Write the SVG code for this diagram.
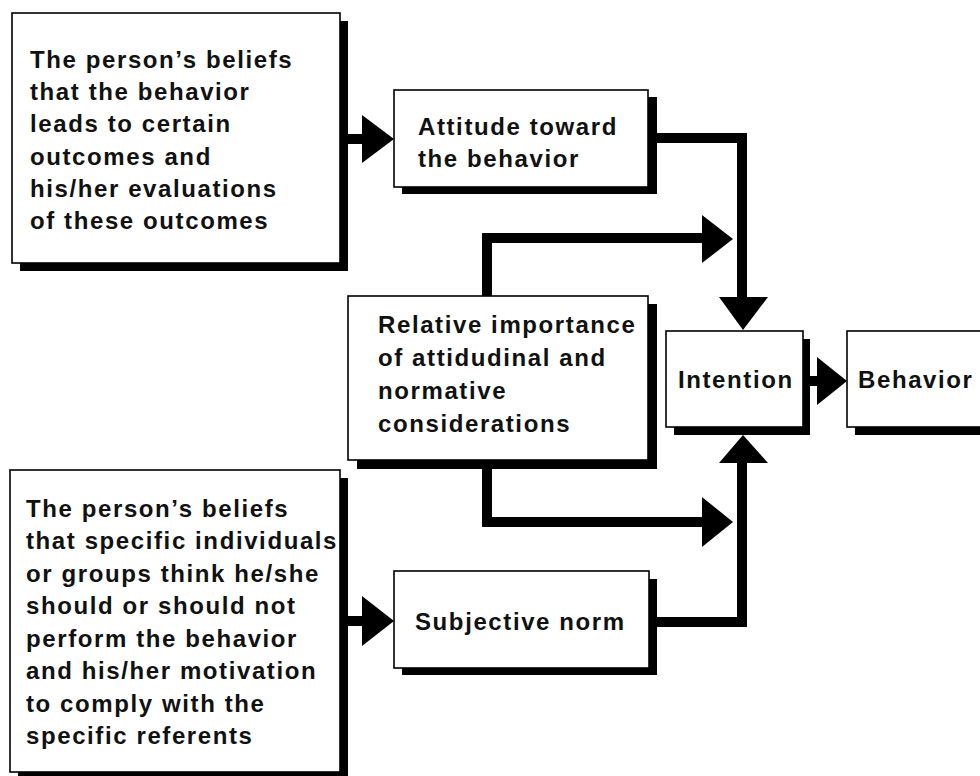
<svg xmlns="http://www.w3.org/2000/svg" width="980" height="776" viewBox="0 0 980 776">
<style>
.box{fill:#fff;stroke:#000;stroke-width:1.6}
.shadow{fill:#000}
text{font-family:"Liberation Sans",Arial,Helvetica,sans-serif;font-weight:bold;font-size:24px;letter-spacing:1.6px;fill:#111}
.wire{fill:none;stroke:#000;stroke-width:10;stroke-linejoin:miter;stroke-linecap:butt}
.head{fill:#000}
</style>
<rect width="980" height="776" fill="#fff"/>
<g id="connectors">
<path class="wire" d="M346,139 H366"/>
<polygon class="head" points="362,115 394,139 362,163"/>
<path class="wire" d="M656,138 H742 V300"/>
<polygon class="head" points="719,297 768,297 743,330"/>
<path class="wire" d="M487,297 V238 H706"/>
<polygon class="head" points="702,215 733,239 702,263"/>
<path class="wire" d="M487,468 V522 H706"/>
<polygon class="head" points="702,497 733,522 702,547"/>
<path class="wire" d="M656,622 H742 V460"/>
<polygon class="head" points="719,463 768,463 743,435"/>
<path class="wire" d="M346,621 H366"/>
<polygon class="head" points="362,596 394,621 362,646"/>
<path class="wire" d="M808,381 H821"/>
<polygon class="head" points="817,357 847,381 817,405"/>
</g>
<g id="beliefs-outcomes">
<rect class="shadow" x="20" y="21" width="328" height="250"/>
<rect class="box" x="12" y="13" width="328" height="250"/>
<text x="30" y="68">The person’s beliefs</text>
<text x="30" y="100">that the behavior</text>
<text x="30" y="132">leads to certain</text>
<text x="30" y="165">outcomes and</text>
<text x="30" y="197">his/her evaluations</text>
<text x="30" y="229">of these outcomes</text>
</g>
<g id="attitude">
<rect class="shadow" x="402" y="97" width="255" height="97"/>
<rect class="box" x="394" y="90" width="254" height="97"/>
<text x="418" y="135">Attitude toward</text>
<text x="418" y="167">the behavior</text>
</g>
<g id="relative-importance">
<rect class="shadow" x="357" y="304" width="300" height="165"/>
<rect class="box" x="348" y="296" width="300" height="164"/>
<text x="378" y="333">Relative importance</text>
<text x="378" y="366">of attidudinal and</text>
<text x="378" y="399">normative</text>
<text x="378" y="432">considerations</text>
</g>
<g id="intention">
<rect class="shadow" x="674" y="339" width="136" height="96"/>
<rect class="box" x="666" y="331" width="137" height="96"/>
<text x="678" y="388">Intention</text>
</g>
<g id="behavior">
<rect class="shadow" x="855" y="339" width="140" height="96"/>
<rect class="box" x="847" y="331" width="140" height="96"/>
<text x="858" y="388">Behavior</text>
</g>
<g id="subjective-norm">
<rect class="shadow" x="402" y="579" width="255" height="96"/>
<rect class="box" x="394" y="571" width="255" height="97"/>
<text x="415" y="630">Subjective norm</text>
</g>
<g id="beliefs-referents">
<rect class="shadow" x="18" y="478" width="330" height="302"/>
<rect class="box" x="10" y="470" width="330" height="302"/>
<text x="26" y="517">The person’s beliefs</text>
<text x="26" y="549">that specific individuals</text>
<text x="26" y="582">or groups think he/she</text>
<text x="26" y="614">should or should not</text>
<text x="26" y="647">perform the behavior</text>
<text x="26" y="679">and his/her motivation</text>
<text x="26" y="712">to comply with the</text>
<text x="26" y="744">specific referents</text>
</g>
</svg>
